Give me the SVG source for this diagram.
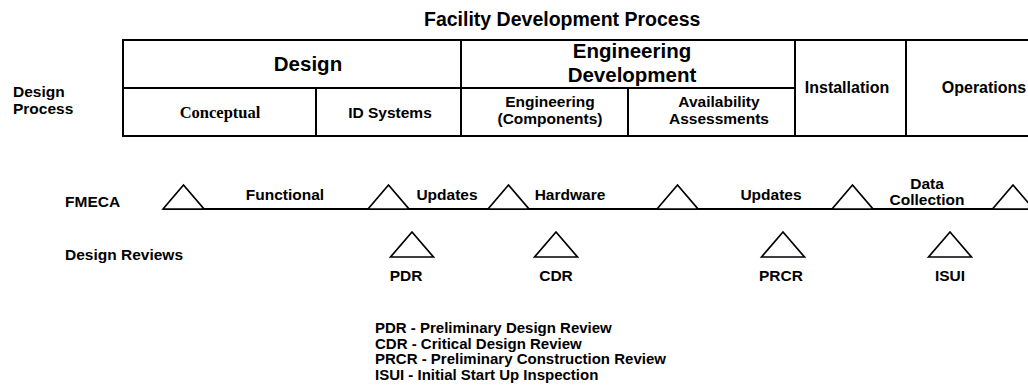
<svg xmlns="http://www.w3.org/2000/svg" width="1028" height="392" viewBox="0 0 1028 392">
<style>
text{font-family:"Liberation Sans",Arial,sans-serif;font-weight:bold;fill:#000}
.t{font-size:19.5px}
.h{font-size:20.5px;text-anchor:middle}
.c{font-size:16px;text-anchor:middle}
.m{font-size:15.5px;text-anchor:middle}
.s{font-size:15.5px}
.l{font-size:15px}
.serif{font-family:"Liberation Serif","Times New Roman",serif;font-size:16.5px}
.b{fill:none;stroke:#000;stroke-width:2}
.tri{fill:#fff;stroke:#000;stroke-width:1.7;stroke-linejoin:miter}
</style>
<defs>
<polygon id="tri" class="tri" points="-20.5,0 0,-24 20.5,0"/>
<polygon id="rtri" class="tri" points="-21.5,0 0,-25 21.5,0"/>
</defs>
<text class="t" x="424" y="26">Facility Development Process</text>
<g id="table">
<rect class="b" x="123" y="40" width="920" height="96"/>
<line class="b" x1="123" y1="88" x2="795" y2="88"/>
<line class="b" x1="461" y1="40" x2="461" y2="136"/>
<line class="b" x1="795" y1="40" x2="795" y2="136"/>
<line class="b" x1="906" y1="40" x2="906" y2="136"/>
<line class="b" x1="316" y1="88" x2="316" y2="136"/>
<line class="b" x1="628" y1="88" x2="628" y2="136"/>
</g>
<g id="design"><text class="h" x="308" y="71">Design</text></g>
<g id="engdev"><text class="h" x="632" y="58">Engineering</text><text class="h" x="632" y="82">Development</text></g>
<g id="installation"><text class="c" x="847" y="93">Installation</text></g>
<g id="operations"><text class="c" x="984" y="93">Operations</text></g>
<g id="conceptual"><text class="c serif" x="220" y="118">Conceptual</text></g>
<g id="idsystems"><text class="m" x="390" y="118">ID Systems</text></g>
<g id="engcomp"><text class="m" x="550" y="107">Engineering</text><text class="m" x="550" y="124">(Components)</text></g>
<g id="avail"><text class="m" x="719" y="107">Availability</text><text class="m" x="719" y="124">Assessments</text></g>
<g id="designprocess"><text class="s" x="13" y="97">Design</text><text class="s" x="13" y="114">Process</text></g>
<g id="fmeca-label"><text class="s" x="65" y="207">FMECA</text></g>
<g id="reviews-label"><text class="s" x="65" y="260">Design Reviews</text></g>
<g id="connectors">
<line x1="163" y1="209" x2="1028" y2="209" stroke="#000" stroke-width="2"/>
</g>
<g id="fmeca">
<use href="#tri" x="183.5" y="209"/>
<use href="#tri" x="388.5" y="209"/>
<use href="#tri" x="508.5" y="209"/>
<use href="#tri" x="677.5" y="209"/>
<use href="#tri" x="852.5" y="209"/>
<use href="#tri" x="1013" y="209"/>
<text class="m" x="285" y="200">Functional</text>
<text class="m" x="447" y="200">Updates</text>
<text class="m" x="570" y="200">Hardware</text>
<text class="m" x="771" y="200">Updates</text>
<text class="m" x="927" y="189">Data</text>
<text class="m" x="927" y="205">Collection</text>
</g>
<g id="pdr"><use href="#rtri" x="412" y="257"/><text class="m" x="406" y="281">PDR</text></g>
<g id="cdr"><use href="#rtri" x="556" y="257"/><text class="m" x="556" y="281">CDR</text></g>
<g id="prcr"><use href="#rtri" x="783" y="257"/><text class="m" x="781" y="281">PRCR</text></g>
<g id="isui"><use href="#rtri" x="950" y="257"/><text class="m" x="950" y="281">ISUI</text></g>
<g id="legend">
<text class="l" x="375" y="333">PDR - Preliminary Design Review</text>
<text class="l" x="375" y="348.5">CDR - Critical Design Review</text>
<text class="l" x="375" y="364">PRCR - Preliminary Construction Review</text>
<text class="l" x="375" y="379.5">ISUI - Initial Start Up Inspection</text>
</g>
</svg>
